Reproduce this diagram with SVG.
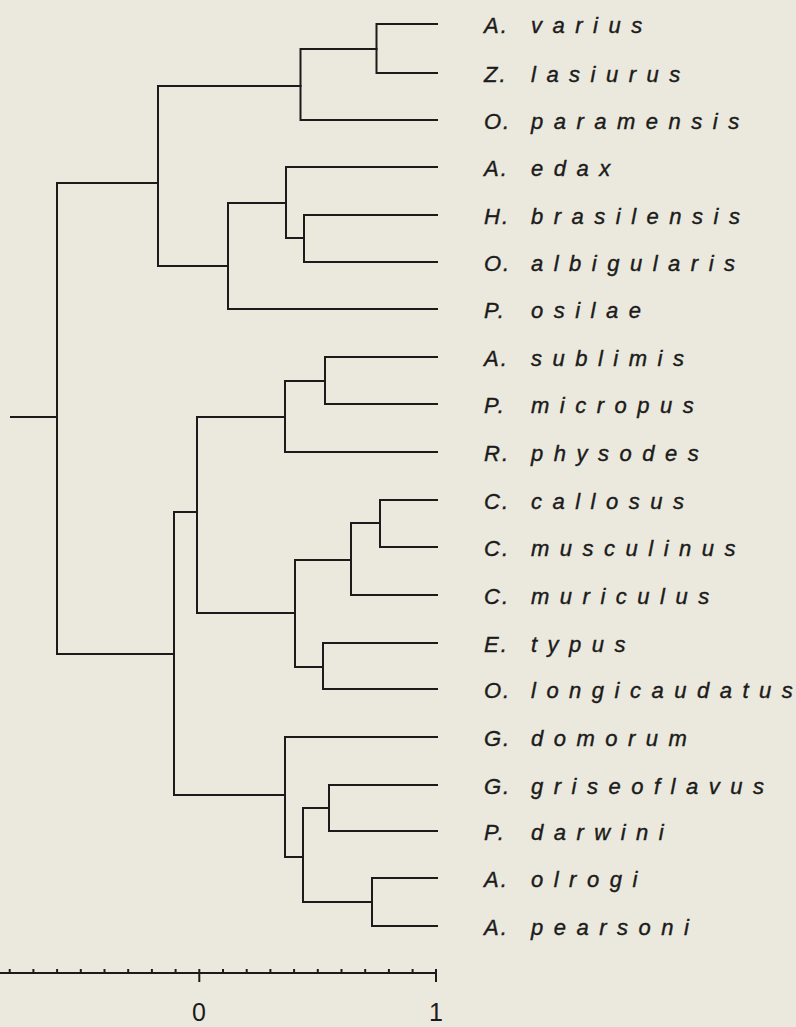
<svg xmlns="http://www.w3.org/2000/svg" width="796" height="1027" viewBox="0 0 796 1027">
<style>
.bg{fill:#ebe9dd}
.ln{fill:none;stroke:#1b1b1b;stroke-width:2;stroke-linejoin:miter;stroke-linecap:square}
.lab{font-family:"Liberation Sans",Arial,sans-serif;font-style:italic;font-size:22px;fill:#1b1b1b;stroke:#1b1b1b;stroke-width:0.4}
.g{letter-spacing:2px}
.sp{letter-spacing:10.5px}
.ax{font-family:"Liberation Sans",Arial,sans-serif;font-size:25px;fill:#1b1b1b;text-anchor:middle}
</style>
<rect class="bg" x="0" y="0" width="796" height="1027"/>
<g id="connectors" class="ln">
<path d="M11,417H57"/>
<path d="M158,183H57V654H174"/>
<path d="M300.5,86H158V266H228"/>
<path d="M376.5,49H300.5V120H437"/>
<path d="M437,24H376.5V73H437"/>
<path d="M286,203H228V309H437"/>
<path d="M437,167H286V238H304"/>
<path d="M437,215H304V262H437"/>
<path d="M197,512H174V795H285"/>
<path d="M285,417H197V613H295"/>
<path d="M325,381H285V452H437"/>
<path d="M437,357H325V404H437"/>
<path d="M351,560H295V667H323"/>
<path d="M380,523H351V595H437"/>
<path d="M437,500H380V547H437"/>
<path d="M437,643H323V689H437"/>
<path d="M437,737H285V857H303"/>
<path d="M329,808H303V902H372"/>
<path d="M437,785H329V831H437"/>
<path d="M437,878H372V926H437"/>
</g>
<g id="leaves" class="lab">
<g id="leaf-a-varius"><text y="33"><tspan class="g" x="484">A. </tspan><tspan class="sp" x="531">varius</tspan></text></g>
<g id="leaf-z-lasiurus"><text y="82"><tspan class="g" x="484">Z. </tspan><tspan class="sp" x="531">lasiurus</tspan></text></g>
<g id="leaf-o-paramensis"><text y="129"><tspan class="g" x="484">O. </tspan><tspan class="sp" x="531">paramensis</tspan></text></g>
<g id="leaf-a-edax"><text y="176"><tspan class="g" x="484">A. </tspan><tspan class="sp" x="531">edax</tspan></text></g>
<g id="leaf-h-brasilensis"><text y="224"><tspan class="g" x="484">H. </tspan><tspan class="sp" x="531">brasilensis</tspan></text></g>
<g id="leaf-o-albigularis"><text y="271"><tspan class="g" x="484">O. </tspan><tspan class="sp" x="531">albigularis</tspan></text></g>
<g id="leaf-p-osilae"><text y="318"><tspan class="g" x="484">P. </tspan><tspan class="sp" x="531">osilae</tspan></text></g>
<g id="leaf-a-sublimis"><text y="366"><tspan class="g" x="484">A. </tspan><tspan class="sp" x="531">sublimis</tspan></text></g>
<g id="leaf-p-micropus"><text y="413"><tspan class="g" x="484">P. </tspan><tspan class="sp" x="531">micropus</tspan></text></g>
<g id="leaf-r-physodes"><text y="461"><tspan class="g" x="484">R. </tspan><tspan class="sp" x="531">physodes</tspan></text></g>
<g id="leaf-c-callosus"><text y="509"><tspan class="g" x="484">C. </tspan><tspan class="sp" x="531">callosus</tspan></text></g>
<g id="leaf-c-musculinus"><text y="556"><tspan class="g" x="484">C. </tspan><tspan class="sp" x="531">musculinus</tspan></text></g>
<g id="leaf-c-muriculus"><text y="604"><tspan class="g" x="484">C. </tspan><tspan class="sp" x="531">muriculus</tspan></text></g>
<g id="leaf-e-typus"><text y="652"><tspan class="g" x="484">E. </tspan><tspan class="sp" x="531">typus</tspan></text></g>
<g id="leaf-o-longicaudatus"><text y="698"><tspan class="g" x="484">O. </tspan><tspan class="sp" x="531">longicaudatu</tspan><tspan>s</tspan></text></g>
<g id="leaf-g-domorum"><text y="746"><tspan class="g" x="484">G. </tspan><tspan class="sp" x="531">domorum</tspan></text></g>
<g id="leaf-g-griseoflavus"><text y="794"><tspan class="g" x="484">G. </tspan><tspan class="sp" x="531">griseoflavus</tspan></text></g>
<g id="leaf-p-darwini"><text y="840"><tspan class="g" x="484">P. </tspan><tspan class="sp" x="531">darwini</tspan></text></g>
<g id="leaf-a-olrogi"><text y="887"><tspan class="g" x="484">A. </tspan><tspan class="sp" x="531">olrogi</tspan></text></g>
<g id="leaf-a-pearsoni"><text y="935"><tspan class="g" x="484">A. </tspan><tspan class="sp" x="531">pearsoni</tspan></text></g>
</g>
<g id="axis">
<path class="ln" style="stroke-linecap:butt" d="M0,973H437M199.3,969V982M436,969V982M9.7,969V973M33.4,969V973M57.1,969V973M80.8,969V973M104.5,969V973M128.2,969V973M151.9,969V973M175.6,969V973M223,969V973M246.7,969V973M270.4,969V973M294.1,969V973M317.8,969V973M341.5,969V973M365.2,969V973M388.9,969V973M412.6,969V973"/>
<text class="ax" x="199" y="1021">0</text>
<text class="ax" x="436" y="1021">1</text>
</g>
</svg>
